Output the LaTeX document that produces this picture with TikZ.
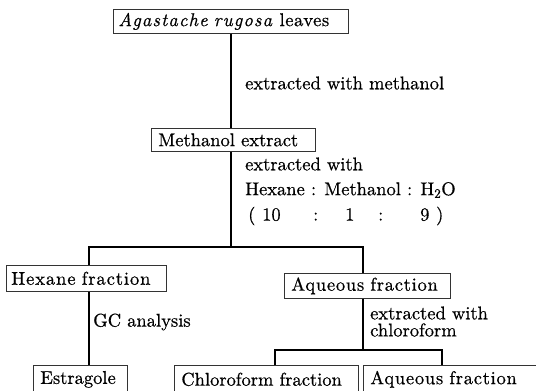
\documentclass[tikz,border=0pt]{standalone}
\usepackage{fontspec}
\setmainfont{lmroman10-regular.otf}[ItalicFont=lmroman10-italic.otf,FakeBold=0.6]
\newcommand\dfont{\fontsize{18.5}{22}\selectfont}
\newcommand\wider[2]{{\addfontfeature{LetterSpace=#1}#2}}
\begin{document}
\begin{tikzpicture}[x=1pt,y=-1pt,
  box/.style={draw=black!80,line width=0.7pt,inner xsep=7pt,inner ysep=0pt,anchor=north west,align=left,font=\dfont},
  lbl/.style={anchor=west,inner sep=0pt,font=\dfont},
  conn/.style={line width=1.1pt,black}]
\useasboundingbox (0,0) rectangle (536,391);
% boxes
\node[box,text width=225pt,minimum height=24pt,inner xsep=5pt] (top) at (113,9) {\textit{\wider{6}{Agastache rugosa}} \wider{3}{leaves}};
\node[box,text width=150pt,minimum height=23pt] (meth) at (151,128) {Methanol extract};
\node[box,text width=150pt,minimum height=26pt,inner xsep=5pt] (hex) at (6,265) {\wider{5}{Hexane fraction}};
\node[box,text width=152pt,minimum height=25pt] (aq) at (284,273) {\wider{4}{Aqueous fraction}};
\node[box,text width=80pt,minimum height=28pt] (est) at (33,365) {Estragole};
\node[box,text width=170pt,minimum height=28pt] (chl) at (174,365) {Chloroform fraction};
\node[box,text width=162pt,minimum height=28pt] (aq2) at (363,365) {\wider{4}{Aqueous fraction}};
% junctions
\coordinate (jA) at (231,247);
\coordinate (jL) at (89,247);
\coordinate (jR) at (363,247);
\coordinate (kA) at (363,350);
\coordinate (kL) at (275,350);
\coordinate (kR) at (442,350);
% connectors
\draw[conn] (top.south -| jA) -- (meth.north -| jA);
\draw[conn] (meth.south -| jA) -- (jA);
\draw[conn] (hex.north -| jL) -- (jL) -- (jR) -- (aq.north -| jR);
\draw[conn] (hex.south -| jL) -- (est.north -| jL);
\draw[conn] (aq.south -| kA) -- (kA);
\draw[conn] (chl.north -| kL) -- (kL) -- (kR) -- (aq2.north -| kR);
% labels
\node[lbl] (l1) at (245,83) {extracted with methanol};
\node[lbl] (l2) at (245,164) {extracted with};
\node[lbl] (l3) at (245,190) {Hexane : Methanol : H\textsubscript{2}O};
\node[lbl] (l4) at (248,216) {(\hspace{6.8pt}10\hspace{32.5pt}:\hspace{26.9pt}1\hspace{23.7pt}:\hspace{36.9pt}9\hspace{6.7pt})};
\node[lbl] (l5) at (93,322) {GC analysis};
\node[lbl] (l6) at (370,313) {extracted with};
\node[lbl] (l7) at (370,330) {chloroform};
\end{tikzpicture}
\end{document}
